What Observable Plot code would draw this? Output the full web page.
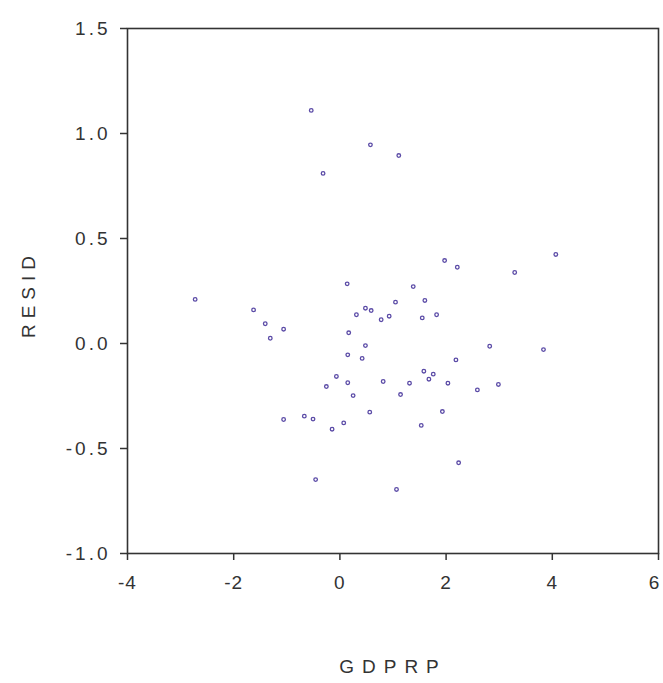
<!DOCTYPE html>
<html>
<head>
<meta charset="utf-8">
<script src="https://cdn.jsdelivr.net/npm/d3@7"></script>
<script src="https://cdn.jsdelivr.net/npm/@observablehq/plot@0.6"></script>
<style>
  html, body { margin: 0; padding: 0; background: #fff; }
  #chart svg { display: block; }
</style>
</head>
<body>
<div id="chart"></div>
<script>
const gdprp = [-0.54, 0.575, 1.109, -0.317, -2.726, -1.626, -1.406, -1.06, -1.311, 0.137,
  0.481, 0.589, 0.311, 0.777, 0.166, 0.481, 0.148, 0.419, -0.066, -0.255,
  0.148, 0.249, 0.562, -1.06, -0.670, -0.506, 0.072, -0.147, 1.972, 2.211,
  4.066, 3.292, 1.381, 1.047, 1.600, 0.928, 1.551, 1.821, 2.821, 3.834,
  2.185, 1.581, 1.758, 1.676, 0.815, 1.311, 2.034, 2.589, 2.985, 1.142,
  1.93, 1.532, 2.236, -0.457, 1.066];
const resid = [1.110, 0.946, 0.895, 0.810, 0.210, 0.160, 0.094, 0.068, 0.025, 0.284,
  0.168, 0.157, 0.137, 0.113, 0.051, -0.010, -0.054, -0.071, -0.157, -0.205,
  -0.187, -0.248, -0.327, -0.362, -0.346, -0.360, -0.378, -0.408, 0.395, 0.363,
  0.424, 0.338, 0.271, 0.197, 0.205, 0.130, 0.122, 0.137, -0.013, -0.029,
  -0.078, -0.132, -0.146, -0.170, -0.181, -0.189, -0.189, -0.221, -0.195, -0.243,
  -0.324, -0.390, -0.568, -0.648, -0.695];
const xTicks = [-4, -2, 0, 2, 4, 6];
const yTicks = [-1.0, -0.5, 0.0, 0.5, 1.0, 1.5];

const data = gdprp.map((x, i) => ({x, y: resid[i]}));
const font = "'Liberation Sans', Arial, sans-serif";

const plot = Plot.plot({
  width: 663,
  height: 683,
  marginLeft: 127,
  marginRight: 5,
  marginTop: 28,
  marginBottom: 130,
  style: {fontFamily: font, fontSize: "19px", color: "#333", background: "#fff"},
  x: {domain: [-4, 6]},
  y: {domain: [-1, 1.5]},
  marks: [
    Plot.axisX({ticks: xTicks, tickSize: 7, tickPadding: 15, tickFormat: d => String(d),
      stroke: "#333", strokeWidth: 1.5, fontSize: 19, fill: "#333", label: null}),
    Plot.axisY({ticks: yTicks, tickSize: 7, tickPadding: 10, tickFormat: d => d.toFixed(1),
      stroke: "#333", strokeWidth: 1.5, fontSize: 19, fill: "#333", label: null}),
    Plot.frame({stroke: "#333", strokeWidth: 1.6}),
    Plot.dot(data, {x: "x", y: "y", r: 1.8, stroke: "#5a4aa6", strokeWidth: 1.3, fill: "none"}),
    Plot.text(["GDPRP"], {frameAnchor: "bottom", dy: 119, text: d => d, fontSize: 19,
      fill: "#333"}),
    Plot.text(["RESID"], {frameAnchor: "left", textAnchor: "middle", dx: -99, dy: 3, rotate: -90,
      text: d => d, fontSize: 19, fill: "#333"})
  ]
});
document.getElementById("chart").appendChild(plot);
plot.querySelectorAll("text").forEach(t => {
  const s = t.textContent;
  if (s === "GDPRP") t.setAttribute("letter-spacing", "8");
  else if (s === "RESID") t.setAttribute("letter-spacing", "6");
  else if (s.includes(".")) t.setAttribute("letter-spacing", "3");
  else t.setAttribute("letter-spacing", "1");
  if (s === "6") t.setAttribute("dx", "-4");
});
</script>
</body>
</html>
